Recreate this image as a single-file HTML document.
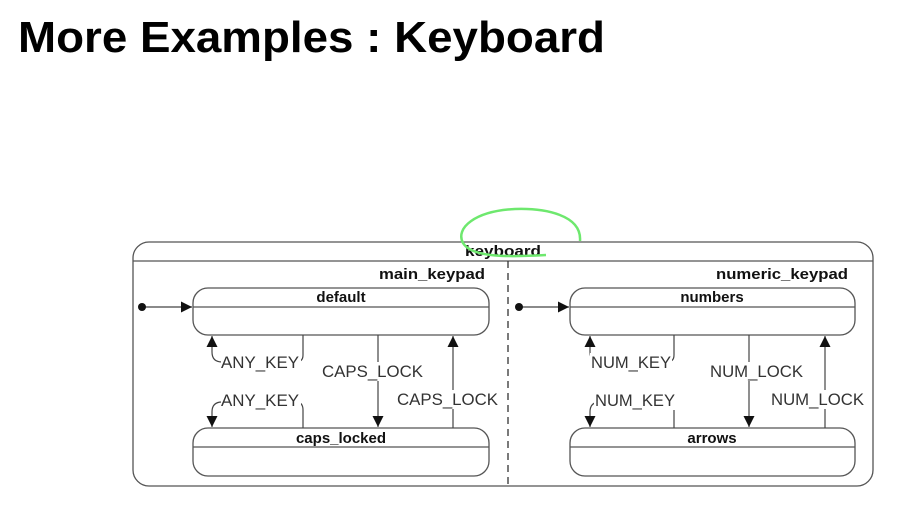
<!DOCTYPE html>
<html><head><meta charset="utf-8"><style>
html,body{margin:0;padding:0;background:#fff;width:924px;height:515px;overflow:hidden}
svg{display:block}
text{font-family:"Liberation Sans",Arial,sans-serif}
</style></head><body>
<svg width="924" height="515" viewBox="0 0 924 515" xmlns="http://www.w3.org/2000/svg">
<defs>
<marker id="a" viewBox="0 0 10 10" refX="10" refY="5" markerWidth="11" markerHeight="11" markerUnits="userSpaceOnUse" orient="auto"><path d="M0,0L10,5L0,10z" fill="#111"/></marker>
</defs>
<text x="18" y="52" font-size="44" font-weight="bold" fill="#000" textLength="587" lengthAdjust="spacingAndGlyphs">More Examples : Keyboard</text>

<g fill="none" stroke="#555" stroke-width="1.3">
<rect x="133" y="242" width="740" height="244" rx="16"/>
<line x1="133" y1="261" x2="873" y2="261"/>
<line x1="508" y1="261" x2="508" y2="486" stroke-dasharray="7,5" stroke="#333"/>
<rect x="193" y="288" width="296" height="47" rx="15"/>
<line x1="193" y1="307" x2="489" y2="307"/>
<rect x="193" y="428" width="296" height="48" rx="15"/>
<line x1="193" y1="447" x2="489" y2="447"/>
<rect x="570" y="288" width="285" height="47" rx="15"/>
<line x1="570" y1="307" x2="855" y2="307"/>
<rect x="570" y="428" width="285" height="48" rx="15"/>
<line x1="570" y1="447" x2="855" y2="447"/>
</g>

<g fill="none" stroke="#444" stroke-width="1.2" marker-end="url(#a)">
<line x1="142" y1="307" x2="192" y2="307"/>
<line x1="519" y1="307" x2="569" y2="307"/>
<path d="M303,335 V355 Q303,362 296,362 H222 Q212,362 212,352 V336"/>
<line x1="378" y1="335" x2="378" y2="427"/>
<line x1="453" y1="428" x2="453" y2="336"/>
<path d="M303,428 V410 Q303,402 296,402 H222 Q212,402 212,412 V427"/>
<path d="M674,335 V355 Q674,362 667,362 H600 Q590,362 590,352 V336"/>
<line x1="749" y1="335" x2="749" y2="427"/>
<line x1="825" y1="428" x2="825" y2="336"/>
<path d="M674,428 V410 Q674,402 667,402 H600 Q590,402 590,412 V427"/>
</g>
<circle cx="142" cy="307" r="4" fill="#111"/>
<circle cx="519" cy="307" r="4" fill="#111"/>

<g font-size="16.5" fill="#333">
<rect x="221" y="353" width="80" height="19" fill="#fff"/>
<text x="221" y="368" textLength="78" lengthAdjust="spacingAndGlyphs">ANY_KEY</text>
<rect x="221" y="391" width="80" height="19" fill="#fff"/>
<text x="221" y="406" textLength="78" lengthAdjust="spacingAndGlyphs">ANY_KEY</text>
<rect x="321" y="362" width="104" height="19" fill="#fff"/>
<text x="322" y="377" textLength="101" lengthAdjust="spacingAndGlyphs">CAPS_LOCK</text>
<rect x="396" y="390" width="104" height="19" fill="#fff"/>
<text x="397" y="405" textLength="101" lengthAdjust="spacingAndGlyphs">CAPS_LOCK</text>
<rect x="590" y="353" width="82" height="19" fill="#fff"/>
<text x="591" y="368" textLength="80" lengthAdjust="spacingAndGlyphs">NUM_KEY</text>
<rect x="594" y="391" width="82" height="19" fill="#fff"/>
<text x="595" y="406" textLength="80" lengthAdjust="spacingAndGlyphs">NUM_KEY</text>
<rect x="709" y="362" width="95" height="19" fill="#fff"/>
<text x="710" y="377" textLength="93" lengthAdjust="spacingAndGlyphs">NUM_LOCK</text>
<rect x="770" y="390" width="95" height="19" fill="#fff"/>
<text x="771" y="405" textLength="93" lengthAdjust="spacingAndGlyphs">NUM_LOCK</text>
</g>
<g font-size="15" font-weight="bold" fill="#111" text-anchor="middle">
<text x="503" y="256" textLength="76" lengthAdjust="spacingAndGlyphs">keyboard</text>
<text x="341" y="302">default</text>
<text x="341" y="443">caps_locked</text>
<text x="712" y="302">numbers</text>
<text x="712" y="443">arrows</text>
<text x="432" y="279" textLength="106" lengthAdjust="spacingAndGlyphs">main_keypad</text>
<text x="782" y="279" textLength="132" lengthAdjust="spacingAndGlyphs">numeric_keypad</text>
</g>
<path d="M580,241 C582,215 545,208 515,209 C475,211 455,228 463,243 C472,258 510,257 546,255" fill="none" stroke="#6ee86e" stroke-width="2.5"/>
</svg>
</body></html>
